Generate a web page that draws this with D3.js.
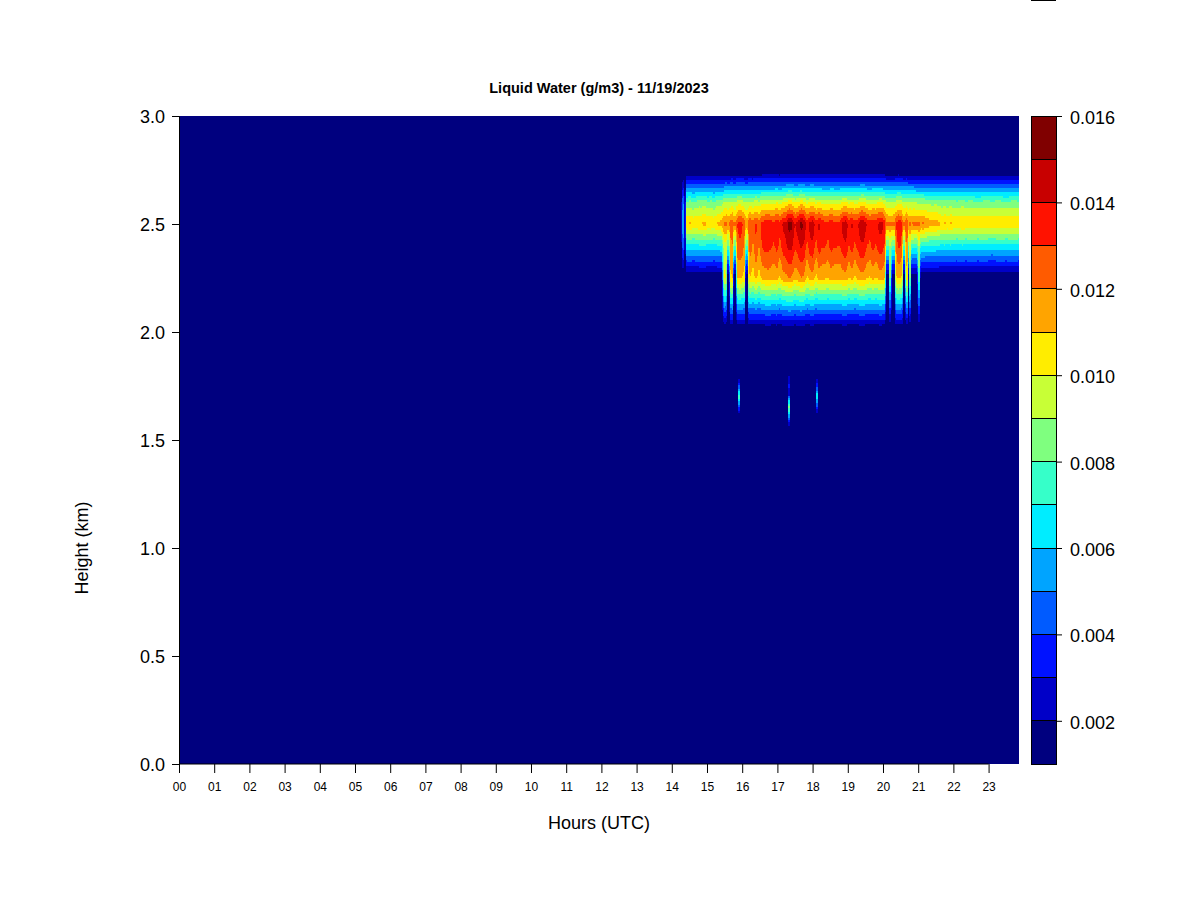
<!DOCTYPE html>
<html>
<head>
<meta charset="utf-8">
<script src="https://cdn.jsdelivr.net/npm/d3@7"></script>
<style>
html,body{margin:0;padding:0;background:#fff}
svg{display:block}
text{font-family:"Liberation Sans",Arial,sans-serif;fill:#000}
</style>
</head>
<body>
<svg id="chart" width="1200" height="900"></svg>
<script>
// Liquid water, in g/m3 x 1000, one entry per time column.
const columnHours = [
  14.26,14.32,14.38,
  14.41,14.52,14.60,14.69,14.77,14.86,14.94,15.03,15.11,15.20,15.28,15.37,15.42,
  15.48,15.55,15.58,15.63,15.66,15.73,15.76,15.82,15.85,15.94,16.02,16.07,16.10,16.15,16.18,
  16.22,16.31,16.39,16.48,16.56,16.65,16.73,16.82,16.90,16.99,17.07,17.16,17.24,17.33,17.41,17.50,
  17.59,17.67,17.76,17.84,17.93,18.01,18.10,18.18,18.27,18.35,18.44,18.52,18.61,18.69,18.78,
  18.86,18.95,19.03,19.12,19.20,19.29,19.38,19.46,19.55,19.63,19.72,19.80,19.89,19.97,20.06,
  20.09,20.16,20.18,20.23,20.25,20.33,20.36,20.43,20.52,20.55,20.58,20.62,20.65,20.70,20.72,20.75,20.78,20.81,20.88,20.97,21.00,21.04,21.07,
  21.16,21.25,21.33,21.42,21.50,21.59,21.67,21.76,21.84,21.93,22.01,22.10,22.18,22.27,22.35,22.50,22.70,22.90,23.10,23.30,23.50,23.70,23.87
];
const lwcAt260 = [
  .6,6,.6,
  8.2,8.4,8.1,8.3,8.5,8.4,8.6,8.2,8.4,8.1,8.5,8.6,8.6,
  9.0,9.2,9.0,9.0,9.2,9.3,9.0,9.0,9.5,9.6,9.4,9.2,9.0,9.0,9.3,
  9.4,9.2,9.6,9.3,9.7,9.8,9.8,9.7,9.7,10.0,9.6,10.0,10.1,10.6,10.5,9.9,
  10.1,10.6,10.3,9.8,10.1,10.2,9.8,10.0,9.8,9.8,9.7,9.9,9.8,9.8,9.8,
  10.1,10.1,9.8,10.0,9.8,9.9,10.2,10.2,9.8,9.7,9.9,9.8,10.0,10.0,9.6,
  9.2,9.2,9.2,9.2,9.2,9.2,9.4,9.7,9.6,9.3,9.1,9.1,9.3,9.2,9.0,9.0,9.0,9.0,9.0,8.9,8.9,8.9,8.9,
  8.9,8.8,8.7,8.6,8.7,8.6,8.4,8.5,8.4,8.5,8.4,8.3,8.4,8.5,8.3,8.4,8.2,8.4,8.3,8.4,8.2,8.4,8.3
];
const lwcAt250 = [
  .6,7.5,.6,
  10.9,11.2,10.85,10.9,10.95,11.1,11.3,10.9,10.95,10.85,11.1,11.4,11.5,
  12.2,12.4,12.0,12.0,12.8,12.8,12.2,12.2,13.0,13.6,13.0,12.6,11.9,11.9,12.6,
  12.9,12.4,13.2,12.5,13.3,13.6,13.7,13.6,13.3,14.0,13.4,14.2,14.4,15.4,15.2,14.0,
  14.6,15.4,14.9,13.6,14.5,14.7,13.5,14.3,13.6,13.5,13.3,14.0,13.4,13.4,13.4,
  14.5,14.7,13.7,14.2,13.6,14.0,14.8,14.7,13.9,13.5,13.9,13.6,14.3,14.4,13.4,
  12.4,12.2,12.2,12.2,12.2,12.4,13.0,13.7,13.5,12.8,12.2,12.2,13.0,12.7,12.0,12.3,12.3,12.0,12.4,12.2,12.3,12.3,12.1,
  12.2,11.8,11.6,11.5,11.6,11.3,10.95,11.2,10.9,11.2,10.9,10.9,10.9,11.1,10.9,10.95,10.9,10.95,10.9,10.95,10.9,10.95,10.9
];
const lwcAt240 = [
  .6,5.5,.6,
  6.7,6.9,6.6,6.8,6.9,6.9,7.0,6.7,6.9,6.6,6.9,7.0,7.0,
  9.5,9.5,8.0,8.0,11.5,12.0,8.0,8.0,12.5,12.8,12.4,11.5,8.0,8.0,11.3,
  12.7,11.8,13.1,11.9,13.1,13.4,13.4,13.2,12.9,13.4,12.6,13.6,13.8,14.4,14.3,13.2,
  13.7,14.2,13.9,12.7,13.7,13.8,12.6,13.6,13.1,13.1,12.8,13.4,13.1,13.1,13.0,
  13.7,13.9,12.9,13.6,12.8,13.4,13.9,13.8,13.0,12.8,13.4,12.9,13.6,13.6,12.8,
  8.0,8.0,9.0,9.0,8.0,8.0,12.0,13.2,13.0,11.4,8.0,8.0,12.0,11.6,8.0,9.5,9.5,7.8,7.5,7.5,9.0,9.0,7.2,
  7.2,7.1,7.0,7.0,7.0,6.9,6.8,6.9,6.8,6.9,6.8,6.7,6.8,6.9,6.7,6.8,6.7,6.8,6.6,6.8,6.7,6.8,6.7
];
const lwcAt225 = [
  .6,1,.6,
  1,1,1,1,1,1,1,1,1,1,1,1,1,
  10.2,10.0,1.2,1.2,10.8,11.0,1.2,1.2,11.0,11.2,10.9,10.6,1.1,1.1,10.4,
  11.0,10.5,11.3,10.5,11.3,11.4,11.5,11.4,11.2,11.5,10.8,11.6,11.7,12.0,11.9,11.3,
  11.6,12.0,11.8,10.8,11.5,11.6,10.7,11.4,11.2,11.2,11.0,11.4,11.2,11.2,11.2,
  11.5,11.6,10.9,11.4,10.8,11.3,11.6,11.5,11.1,10.9,11.3,10.9,11.4,11.4,11.0,
  1.2,1.2,8.0,8.0,1.2,1.2,10.8,11.2,11.0,10.6,1.2,1.2,10.6,10.4,1.2,8.5,8.5,1.1,1.0,1.0,7.5,7.5,1.0,
  1,1,1,1,1,1,1,1,1,1,1,1,1,1,1,1,1,1,1,1,1,1,1
];
const edgeLwc = 0.6;                 // value at 2.00 km and 2.75 km
const rowHeights = [2.0,2.25,2.4,2.5,2.6,2.75];

// Three short isolated blips near 1.7 km
const blipHours = [15.88,17.30,17.30,18.10];
const blipHeights = [1.70,1.65,1.75,1.70];
const blipValues = [7.2,7.8,2.6,6.2];

const levels = [1,2,3,4,5,6,7,8,9,10,11,12,13,14,15,16];
const levelColors = ["#00007F","#0000C8","#0012FF","#005BFF","#00A4FF","#00EDFF","#36FFC9","#7FFF7F",
                     "#C8FF36","#FFED00","#FFA400","#FF5B00","#FF1200","#C80000","#800000"];
const hourTicks = d3.range(0,24);
const heightTicks = [0,0.5,1,1.5,2,2.5,3];
const barTicks = [0.002,0.004,0.006,0.008,0.010,0.012,0.014,0.016];

[lwcAt260,lwcAt250,lwcAt240,lwcAt225].forEach(a=>{
  if(a.length!==columnHours.length) throw new Error("length "+a.length+" vs "+columnHours.length);
});

const svg = d3.select("#chart");
const x = d3.scaleLinear().domain([0,23.864]).range([179,1019]);
const y = d3.scaleLinear().domain([0,3]).range([764,116]);
const colorOf = d3.scaleThreshold().domain(levels.slice(1,-1)).range(levelColors);

svg.append("rect").attr("x",x(0)).attr("y",y(3)).attr("width",x.range()[1]-x(0)).attr("height",y(0)-y(3))
   .attr("fill",levelColors[0]);

const field = svg.append("g").attr("shape-rendering","crispEdges");
const bisect = d3.bisector(d=>d).right;

function profileAt(hour){
  const j = Math.min(columnHours.length-2,Math.max(0,bisect(columnHours,hour)-1));
  const t = Math.max(0,Math.min(1,(hour-columnHours[j])/(columnHours[j+1]-columnHours[j])));
  const mix = a=>a[j]+(a[j+1]-a[j])*t;
  return [edgeLwc,mix(lwcAt225),mix(lwcAt240),mix(lwcAt250),mix(lwcAt260),edgeLwc];
}
function valueAt(profile,km){
  if(km<=rowHeights[0]||km>=rowHeights[5]) return 0;
  const k = bisect(rowHeights,km)-1;
  const t = (km-rowHeights[k])/(rowHeights[k+1]-rowHeights[k]);
  return profile[k]+(profile[k+1]-profile[k])*t;
}

// filled bands: one pixel column at a time, two pixel rows, merged into runs of a colour
const rowTop = y(2.75), rowBottom = y(2.0), rowStep = 2;
for(let px=Math.ceil(x(columnHours[0])); px<x.range()[1]; px++){
  const prof = profileAt(x.invert(px+0.5));
  let runStart=null, runColor=null;
  for(let py=rowTop; py<=rowBottom+rowStep; py+=rowStep){
    const v = valueAt(prof,y.invert(py+rowStep/2));
    const c = v<2 ? null : colorOf(v);
    if(c!==runColor){
      if(runColor) field.append("rect").attr("x",px).attr("y",runStart).attr("width",1).attr("height",py-runStart).attr("fill",runColor);
      runStart=py; runColor=c;
    }
  }
}

// isolated blips
blipHours.forEach((h,i)=>{
  const half=0.1;
  for(let py=y(blipHeights[i]+half); py<y(blipHeights[i]-half); py+=2){
    const km=y.invert(py+1);
    const v=blipValues[i]*(1-Math.abs(km-blipHeights[i])/half)+0.6;
    if(v>=2) field.append("rect").attr("x",Math.round(x(h))).attr("y",py).attr("width",1.5).attr("height",2).attr("fill",colorOf(v));
  }
});

// axes
const xAxis = svg.append("g").attr("transform",`translate(0,${y(0)})`)
  .call(d3.axisBottom(x).tickValues(hourTicks).tickFormat(d3.format("02d")).tickSize(9).tickPadding(9));
xAxis.select(".domain").remove();
xAxis.selectAll("text").attr("font-size",12).attr("font-family","Liberation Sans");
xAxis.selectAll("line").attr("stroke","#000");
svg.append("line").attr("x1",x(0)).attr("x2",x(23)).attr("y1",y(0)).attr("y2",y(0)).attr("stroke","#000");

const yAxis = svg.append("g").attr("transform",`translate(${x(0)},0)`)
  .call(d3.axisLeft(y).tickValues(heightTicks).tickFormat(d3.format(".1f")).tickSize(7).tickPadding(7));
yAxis.select(".domain").attr("stroke","#000");
yAxis.selectAll("text").attr("font-size",18).attr("font-family","Liberation Sans").attr("dy","0.38em");
yAxis.selectAll("line").attr("stroke","#000");

// colour bar
const barY = d3.scaleLinear().domain([0.001,0.016]).range([764,116]);
const barLeft=1031, barRight=1056;
svg.append("g").selectAll("rect").data(levelColors).join("rect")
  .attr("x",barLeft).attr("width",barRight-barLeft)
  .attr("y",(d,i)=>barY(levels[i+1]/1000))
  .attr("height",(d,i)=>barY(levels[i]/1000)-barY(levels[i+1]/1000))
  .attr("fill",d=>d).attr("stroke","#000").attr("stroke-width",1).attr("shape-rendering","crispEdges");
const barAxis = svg.append("g").attr("transform",`translate(${barRight},0)`)
  .call(d3.axisRight(barY).tickValues(barTicks).tickFormat(d3.format(".3f")).tickSize(6).tickPadding(8));
barAxis.select(".domain").remove();
barAxis.selectAll("text").attr("font-size",18).attr("font-family","Liberation Sans").attr("dy","0.42em");
barAxis.selectAll("line").attr("stroke","#000");
svg.append("rect").attr("x",barLeft).attr("y",0).attr("width",barRight-barLeft).attr("height",1).attr("fill","#000");

// titles
svg.append("text").attr("x",599).attr("y",93).attr("text-anchor","middle")
   .attr("font-size",14.5).attr("font-weight","bold").text("Liquid Water (g/m3) - 11/19/2023");
svg.append("text").attr("x",599).attr("y",829).attr("text-anchor","middle")
   .attr("font-size",18).text("Hours (UTC)");
svg.append("text").attr("transform","translate(88,548) rotate(-90)").attr("text-anchor","middle")
   .attr("font-size",18).text("Height (km)");
</script>
</body>
</html>
